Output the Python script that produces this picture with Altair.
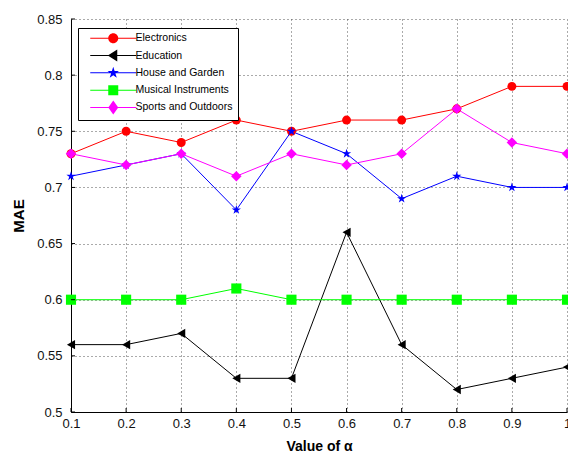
import altair as alt
import pandas as pd

alphas = [0.1, 0.2, 0.3, 0.4, 0.5, 0.6, 0.7, 0.8, 0.9, 1.0]
names = ["Electronics", "Education", "House and Garden", "Musical Instruments", "Sports and Outdoors"]
electronics = [0.73, 0.75, 0.74, 0.76, 0.75, 0.76, 0.76, 0.77, 0.79, 0.79]
education = [0.56, 0.56, 0.57, 0.53, 0.53, 0.66, 0.56, 0.52, 0.53, 0.54]
house = [0.71, 0.72, 0.73, 0.68, 0.75, 0.73, 0.69, 0.71, 0.70, 0.70]
musical = [0.60, 0.60, 0.60, 0.61, 0.60, 0.60, 0.60, 0.60, 0.60, 0.60]
sports = [0.73, 0.72, 0.73, 0.71, 0.73, 0.72, 0.73, 0.77, 0.74, 0.73]
x_ticks = [0.1, 0.2, 0.3, 0.4, 0.5, 0.6, 0.7, 0.8, 0.9, 1.0]
y_ticks = [0.5, 0.55, 0.6, 0.65, 0.7, 0.75, 0.8, 0.85]

colors = ["#FF0000", "#000000", "#0000FF", "#00FF00", "#FF00FF"]

STAR = ("M0,-1L0.2245,-0.309L0.951,-0.309L0.363,0.118L0.588,0.809L0,0.382"
        "L-0.588,0.809L-0.363,0.118L-0.951,-0.309L-0.2245,-0.309Z")
point_shapes = ["circle", "triangle-left", STAR, "square", "diamond"]
point_sizes = [80, 110, 150, 90, 70]

# legend symbols (symbolSize 4 -> one path unit = one pixel): line segment with marker in the middle
LINE = "M-23,-0.5H-2V0.5H-23ZM2,-0.5H23V0.5H2Z"
leg_circle = LINE + "M5,0A5,5,0,1,1,-5,0A5,5,0,1,1,5,0Z"
leg_tri = LINE + "M-5.5,0L4,-6L4,6Z"
leg_star = LINE + ("M0,-6L1.347,-1.854L5.706,-1.854L2.178,0.708L3.528,4.854L0,2.292"
                   "L-3.528,4.854L-2.178,0.708L-5.706,-1.854L-1.347,-1.854Z")
leg_square = LINE + "M-5,-5L5,-5L5,5L-5,5Z"
leg_diamond = LINE + "M0,-7L5,0L0,7L-5,0Z"
legend_shapes = [leg_circle, leg_tri, leg_star, leg_square, leg_diamond]

series_vals = [electronics, education, house, musical, sports]
rows = []
for name, vals in zip(names, series_vals):
    for a, v in zip(alphas, vals):
        rows.append({"alpha": a, "MAE": v, "series": name})
df = pd.DataFrame(rows)

LEFT, TOP = 71, 19
W, H = 496, 393
FONT = "Liberation Sans"

xscale = alt.Scale(domain=[0.1, 1.0], nice=False, zero=False)
yscale = alt.Scale(domain=[0.5, 0.85], nice=False, zero=False)
xaxis = alt.Axis(values=x_ticks, format="~g", title="Value of α", grid=True, ticks=False, labelFlush=False)
yaxis = alt.Axis(values=y_ticks, format="~g", title="MAE", grid=True, ticks=False, labelFlush=False)

base = alt.Chart(df)

lines = base.mark_line(strokeWidth=1).encode(
    x=alt.X("alpha:Q", scale=xscale, axis=xaxis),
    y=alt.Y("MAE:Q", scale=yscale, axis=yaxis),
    color=alt.Color("series:N", scale=alt.Scale(domain=names, range=colors), legend=None),
    detail="series:N",
)

points = base.mark_point(filled=True, opacity=1).encode(
    x=alt.X("alpha:Q", scale=xscale, axis=xaxis),
    y=alt.Y("MAE:Q", scale=yscale, axis=yaxis),
    color=alt.Color("series:N", scale=alt.Scale(domain=names, range=colors), legend=None),
    shape=alt.Shape("series:N", scale=alt.Scale(domain=names, range=point_shapes), legend=None),
    size=alt.Size("series:N", scale=alt.Scale(domain=names, range=point_sizes), legend=None),
)

leg = dict(
    title=None, orient="none", legendX=7, legendY=9, direction="vertical",
    symbolSize=4, symbolStrokeWidth=0, symbolOpacity=1,
    labelFont=FONT, labelFontSize=10.5, labelColor="black", labelOffset=17,
    symbolOffset=25, padding=5, rowPadding=2.3, gridAlign="all",
    strokeColor="black", fillColor="white",
)

legend_layer = base.transform_filter("datum.MAE < 0").mark_point(filled=True, opacity=1).encode(
    x=alt.X("alpha:Q", scale=xscale, axis=xaxis),
    y=alt.Y("MAE:Q", scale=yscale, axis=yaxis),
    color=alt.Color("series:N", scale=alt.Scale(domain=names, range=colors), legend=alt.Legend(**leg)),
    shape=alt.Shape("series:N", scale=alt.Scale(domain=names, range=legend_shapes), legend=alt.Legend(**leg)),
)

ytick_df = pd.DataFrame({"MAE": y_ticks})
xtick_df = pd.DataFrame({"alpha": x_ticks})
yticks = alt.Chart(ytick_df).mark_rule(color="black", strokeWidth=1).encode(
    y=alt.Y("MAE:Q", scale=yscale, axis=yaxis), x=alt.value(0), x2=alt.value(4)
)
xticks = alt.Chart(xtick_df).mark_rule(color="black", strokeWidth=1).encode(
    x=alt.X("alpha:Q", scale=xscale, axis=xaxis), y=alt.value(H), y2=alt.value(H - 4)
)

chart = alt.layer(lines, points, yticks, xticks, legend_layer).resolve_scale(
    color="independent", shape="independent", size="independent"
).properties(
    width=W, height=H,
    padding={"left": LEFT, "top": TOP, "right": 568 - LEFT - W, "bottom": 452 - TOP - H},
    autosize=alt.AutoSizeParams(type="none"),
    background="white",
).configure_view(stroke=None).configure_axis(
    domainColor="black", domainWidth=1,
    gridColor="#555555", gridDash=[1, 3], gridWidth=1,
    labelFont=FONT, labelFontSize=13, labelColor="#111111",
    titleFont=FONT, titleFontSize=15, titleFontWeight="bold", titleColor="black",
).configure_axisX(labelPadding=5, titlePadding=9, titleFontSize=14).configure_axisY(labelPadding=9, titlePadding=10)

chart.save("out.html", embed_options={"renderer": "svg", "actions": False})
